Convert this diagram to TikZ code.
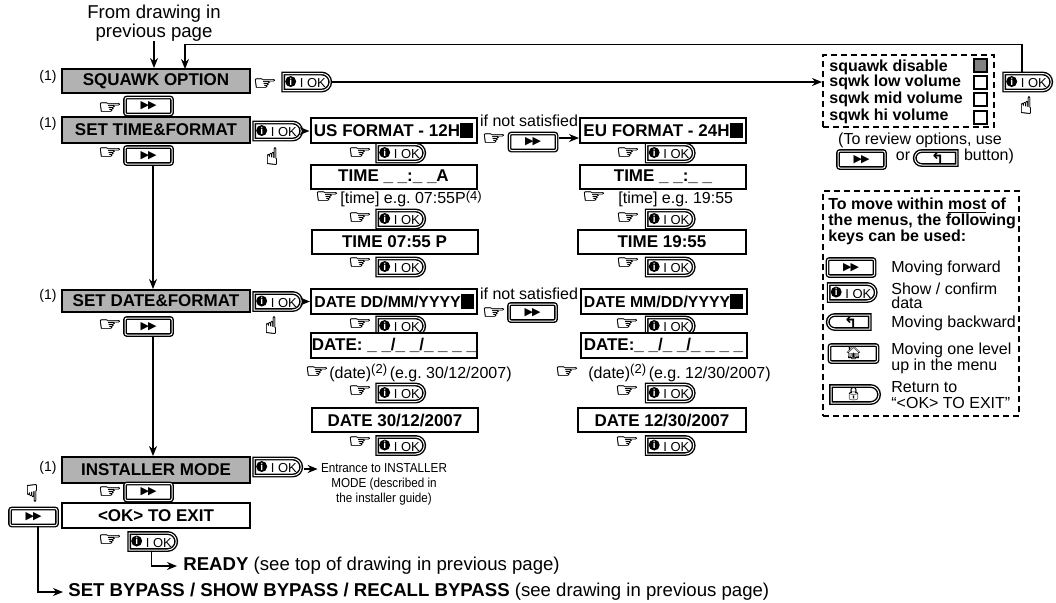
\documentclass[tikz,border=0pt]{standalone}
\usepackage{fontspec}
\setmainfont{Liberation Sans}
\newfontfamily\symfont{DejaVu Sans}
\newfontfamily\handfont[FakeBold=1.2,FakeStretch=1.45]{DejaVu Sans}
\newfontfamily\upfont[FakeBold=1.2,FakeStretch=0.85]{DejaVu Sans}
\newfontfamily\emojifont{Noto Emoji}
\newfontfamily\narrowfont[FakeStretch=0.9]{Liberation Sans}
\usepackage{tikz}
\usetikzlibrary{arrows.meta,positioning,shapes.misc,calc}
\frenchspacing

\newcommand{\fwdicon}{{\symfont\fontsize{5.5}{5.5}\selectfont ▶\kern-0.5pt▶}}
\newcommand{\okicon}{\tikz[baseline=-0.75ex]\node[circle,fill=black,text=white,inner sep=0.3pt,minimum size=5.5pt,font=\fontsize{5}{5}\selectfont\bfseries]{i};\fontsize{6.5}{6.5}\selectfont\ I OK}
\newcommand{\backicon}{{\symfont\bfseries\fontsize{8}{8}\selectfont ↰}}
\newcommand{\upicon}{{\emojifont\fontsize{6.5}{6.5}\selectfont 🏠}}
\newcommand{\lockicon}{{\emojifont\fontsize{6.5}{6.5}\selectfont 🔒}}

\begin{document}
\begin{tikzpicture}[
    x=0.5pt, y=-0.5pt,
    every node/.style={font=\fontsize{8}{8}\selectfont, inner sep=0pt},
    label9/.style={font=\fontsize{9.3}{9.2}\selectfont},
    menubox/.style={draw, line width=1pt, fill=white, minimum width=83pt, minimum height=12pt, font=\fontsize{8.5}{8.5}\selectfont\bfseries},
    datebox/.style={menubox, minimum height=12.5pt, font=\fontsize{7.9}{7.9}\selectfont\bfseries},
    graybox/.style={menubox, fill=black!30, minimum width=94pt},
    fwdkey/.style={draw, line width=0.7pt, double, double distance=0.5pt, fill=white, rounded corners=1pt, minimum width=23.5pt, minimum height=8.5pt, preaction={draw=white, line width=1pt}},
    okkey/.style={rounded rectangle, rounded rectangle west arc=none, fwdkey, rounded corners=0pt},
    backkey/.style={rounded rectangle, rounded rectangle east arc=none, fwdkey, rounded corners=0pt, minimum width=21pt, minimum height=7pt},
    upkey/.style={fwdkey, minimum width=24pt},
    lockkey/.style={okkey, minimum width=24pt},
    hand/.style={font=\handfont\fontsize{9.5}{9.5}\selectfont},
    handup/.style={font=\upfont\fontsize{12}{12}\selectfont},
    note/.style={font=\fontsize{7}{7}\selectfont},
    optbold/.style={font=\fontsize{8}{8}\selectfont\bfseries, anchor=west},
    optsq/.style={draw, line width=1pt, fill=white, minimum width=6.5pt, minimum height=6.5pt},
    dashbox/.style={draw, line width=1pt, dash pattern=on 3pt off 2pt},
    arrow/.style={-{Stealth[length=5pt, width=4pt]}, line width=0.8pt}
]
\useasboundingbox (0,0) rectangle (1056,602);

% Input from previous page
\node[label9, align=center] (from) at (154,23) {From drawing in\\previous page};

% Main column
\node[note] (n1) at (48,77) {(1)};
\node[graybox] (squawk) at (156,81) {SQUAWK OPTION};
\node[hand] (hsq) at (265,84) {☞};
\node[okkey] (oksq) at (305.5,82) {\okicon};
\node[hand] (hf1) at (110,108) {☞};
\node[fwdkey] (f1) at (148.5,106) {\fwdicon};

\node[note] (n2) at (48,124) {(1)};
\node[graybox, minimum height=13pt] (settime) at (156,130) {SET TIME\&FORMAT};
\node[okkey] (oktime) at (276.5,131) {\okicon};
\node[handup] (hutime) at (272,156) {☝};
\node[hand] (hf2) at (110,153) {☞};
\node[fwdkey] (f2) at (148.5,155.5) {\fwdicon};

\node[note] (n3) at (48,296) {(1)};
\node[graybox, minimum height=11pt] (setdate) at (156,301) {SET DATE\&FORMAT};
\node[okkey] (okdate) at (276.5,301.5) {\okicon};
\node[handup] (hudate) at (271,325) {☝};
\node[hand] (hf3) at (110,325) {☞};
\node[fwdkey] (f3) at (148.5,326.5) {\fwdicon};

\node[note] (n4) at (48,468) {(1)};
\node[graybox, minimum height=13pt] (installer) at (156,470) {INSTALLER MODE};
\node[okkey] (okinst) at (276.5,467) {\okicon};
\node[font=\narrowfont\fontsize{6.5}{7.6}\selectfont, align=center] (entrance) at (384,484) {Entrance to INSTALLER\\MODE (described in\\the installer guide)};
\node[hand] (hf4) at (110,492) {☞};
\node[fwdkey] (f4) at (148.5,492) {\fwdicon};

\node[menubox, minimum width=94pt, minimum height=12.5pt] (exit) at (156,515.5) {<OK> TO EXIT};
\node[handup] (hdown) at (32,493) {☟};
\node[fwdkey] (f5) at (33.5,517) {\fwdicon};
\node[hand] (hok) at (110,540) {☞};
\node[okkey] (okexit) at (151.5,541.5) {\okicon};

\node[anchor=west, label9] (ready) at (183,566) {\textbf{READY} (see top of drawing in previous page)};
\node[anchor=west, label9] (bypass) at (68,592) {\textbf{SET BYPASS / SHOW BYPASS / RECALL BYPASS} (see drawing in previous page)};

% Time, US format
\node[datebox, font=\fontsize{8.5}{8.5}\selectfont\bfseries] (us) at (393.5,130) {US FORMAT - 12H\rule[-0.7pt]{6.5pt}{7.5pt}};
\node[hand] (hus) at (360,153) {☞};
\node[okkey] (okus) at (399.5,153) {\okicon};
\node[menubox] (timea) at (393.5,177) {TIME \_ \_:\_ \_A};
\node[hand] (htime) at (327,197) {☞};
\node[anchor=west] (timetxt) at (340,199) {[time] e.g. 07:55P\raisebox{1.5pt}{\fontsize{6.5}{6.5}\selectfont(4)}};
\node[hand] (hta) at (360,218) {☞};
\node[okkey] (okta) at (399.5,219) {\okicon};
\node[menubox] (timep) at (394.5,242) {TIME 07:55 P};
\node[hand] (htp) at (360,263) {☞};
\node[okkey] (oktp) at (399.5,267) {\okicon};

% Time, EU format
\node (notsat1) at (529,121) {if not satisfied};
\node[hand] (hns1) at (494,139) {☞};
\node[fwdkey] (fns1) at (533,142) {\fwdicon};
\node[datebox, font=\fontsize{8.5}{8.5}\selectfont\bfseries] (eu) at (663,130) {EU FORMAT - 24H\rule[-0.7pt]{6.5pt}{7.5pt}};
\node[hand] (heu) at (628,153) {☞};
\node[okkey] (okeu) at (669,153) {\okicon};
\node[menubox] (timeb) at (663,177) {TIME \_ \_:\_ \_};
\node[hand] (htime2) at (594,197) {☞};
\node[anchor=west] (timetxt2) at (618,199) {[time] e.g. 19:55};
\node[hand] (htb) at (628,218) {☞};
\node[okkey] (oktb) at (669,219) {\okicon};
\node[menubox, minimum width=84pt] (time1955) at (662,242) {TIME 19:55};
\node[hand] (htc) at (628,263) {☞};
\node[okkey] (oktc) at (669,267) {\okicon};

% Date, first format
\node[datebox] (dd) at (394,301.5) {DATE DD/MM/YYYY\rule[-0.7pt]{6.5pt}{7.5pt}};
\node[hand] (hdd) at (360,324) {☞};
\node[okkey] (okdd) at (399.5,326) {\okicon};
\node[menubox, minimum height=12.5pt] (datea) at (394,345.5) {DATE: \_ \_/\_ \_/\_ \_ \_ \_};
\node[hand] (hda) at (317,372) {☞};
\node[anchor=west] (datetxt) at (329,373) {(date)\raisebox{2.5pt}{\fontsize{6.5}{6.5}\selectfont(2)}\,(e.g. 30/12/2007)};
\node[hand] (hdb) at (360,391) {☞};
\node[okkey] (okdb) at (399.5,393) {\okicon};
\node[menubox] (dateb) at (395,420) {DATE 30/12/2007};
\node[hand] (hdc) at (360,442) {☞};
\node[okkey] (okdc) at (399.5,445.5) {\okicon};

% Date, second format
\node (notsat2) at (529,294) {if not satisfied};
\node[hand] (hns2) at (494,313) {☞};
\node[fwdkey] (fns2) at (532.5,312.5) {\fwdicon};
\node[datebox] (mm) at (663.5,301.5) {DATE MM/DD/YYYY\rule[-0.7pt]{6.5pt}{7.5pt}};
\node[hand] (hmm) at (627,324) {☞};
\node[okkey] (okmm) at (669,326) {\okicon};
\node[menubox, minimum height=12.5pt] (datec) at (663.5,345.5) {DATE:\_ \_/\_ \_/\_ \_ \_ \_};
\node[hand] (hdd2) at (567,372) {☞};
\node[anchor=west] (datetxt2) at (588,373) {(date)\raisebox{2.5pt}{\fontsize{6.5}{6.5}\selectfont(2)}\,(e.g. 12/30/2007)};
\node[hand] (hde) at (627,391) {☞};
\node[okkey] (okde) at (669,393) {\okicon};
\node[menubox, minimum width=84pt] (dated) at (662,420) {DATE 12/30/2007};
\node[hand] (hdf) at (627,442) {☞};
\node[okkey] (okdf) at (669,445.5) {\okicon};

% Squawk options
\node[dashbox, minimum width=85.5pt, minimum height=36pt] (optbox) at (908.5,91) {};
\node[optbold] (opt1) at (829,67) {squawk disable};
\node[optbold] (opt2) at (829,82) {sqwk low volume};
\node[optbold] (opt3) at (829,99) {sqwk mid volume};
\node[optbold] (opt4) at (829,116) {sqwk hi volume};
\node[optsq, fill=black!50] (sq1) at (980.5,65) {};
\node[optsq] (sq2) at (980.5,82.5) {};
\node[optsq] (sq3) at (980.5,99.5) {};
\node[optsq] (sq4) at (980.5,117) {};
\node[okkey] (okopt) at (1026.5,82) {\okicon};
\node[handup] (hopt) at (1026,105) {☝};
\node (review) at (920,140) {(To review options, use};
\node[fwdkey] (frev) at (861.5,159.5) {\fwdicon};
\node (ortxt) at (903,156) {or};
\node[backkey] (brev) at (937.5,158) {\backicon};
\node (buttxt) at (989,156) {button)};

% Key legend
\node[dashbox, minimum width=98pt, minimum height=112.5pt] (keybox) at (921,303.5) {};
\node[font=\fontsize{8}{8}\selectfont\bfseries, align=left, anchor=north west] (keytxt) at (828,197) {To move within \underline{most} of\\the menus, the following\\keys can be used:};
\node[fwdkey] (lf) at (851,267.5) {\fwdicon};
\node[anchor=west] (lft) at (891,268) {Moving forward};
\node[okkey] (lo) at (851,292.5) {\okicon};
\node[anchor=west, align=left] (lot) at (891,296) {Show / confirm\\[-1pt]data};
\node[backkey] (lb) at (850.5,322) {\backicon};
\node[anchor=west] (lbt) at (891,323) {Moving backward};
\node[upkey] (lu) at (853.5,353.5) {\upicon};
\node[anchor=west, align=left] (lut) at (891,358) {Moving one level\\up in the menu};
\node[lockkey] (ll) at (853.5,394.5) {\lockicon};
\node[anchor=west, align=left] (llt) at (891,395.5) {Return to\\“<OK> TO EXIT”};

% Arrows
\coordinate (sqin) at (185,69);
\coordinate (sqout) at (1022,72);
\draw[arrow] (from.south) -- (from.south |- squawk.north);
\draw[arrow] (sqout) |- (185,44.5) -- (sqin);
\draw[arrow] (oksq.east) -- (optbox.west |- oksq.east);
\draw[arrow] (oktime.east) -- (us.west |- oktime.east);
\draw[arrow] (f2.south) ++(4.5,0) coordinate (f2out) -- (f2out |- setdate.north);
\draw[arrow] (f3.south) ++(4.5,0) coordinate (f3out) -- (f3out |- installer.north);
\draw[arrow] (okdate.east) -- (dd.west |- okdate.east);
\draw[arrow] (fns1.east) ++(2,-4) coordinate (nsout) -- (eu.west |- nsout);
\draw[arrow] (okinst.east) ++(2,2) coordinate (instout) -- ($(entrance.west |- instout)+(-3,0)$);
\draw[arrow] (okexit.south) |- ($(ready.west)+(-6,0)$);
\draw[arrow] (f5.south) ++(4.5,0) coordinate (f5out) |- ($(bypass.west)+(-5,0)$);

\end{tikzpicture}
\end{document}
